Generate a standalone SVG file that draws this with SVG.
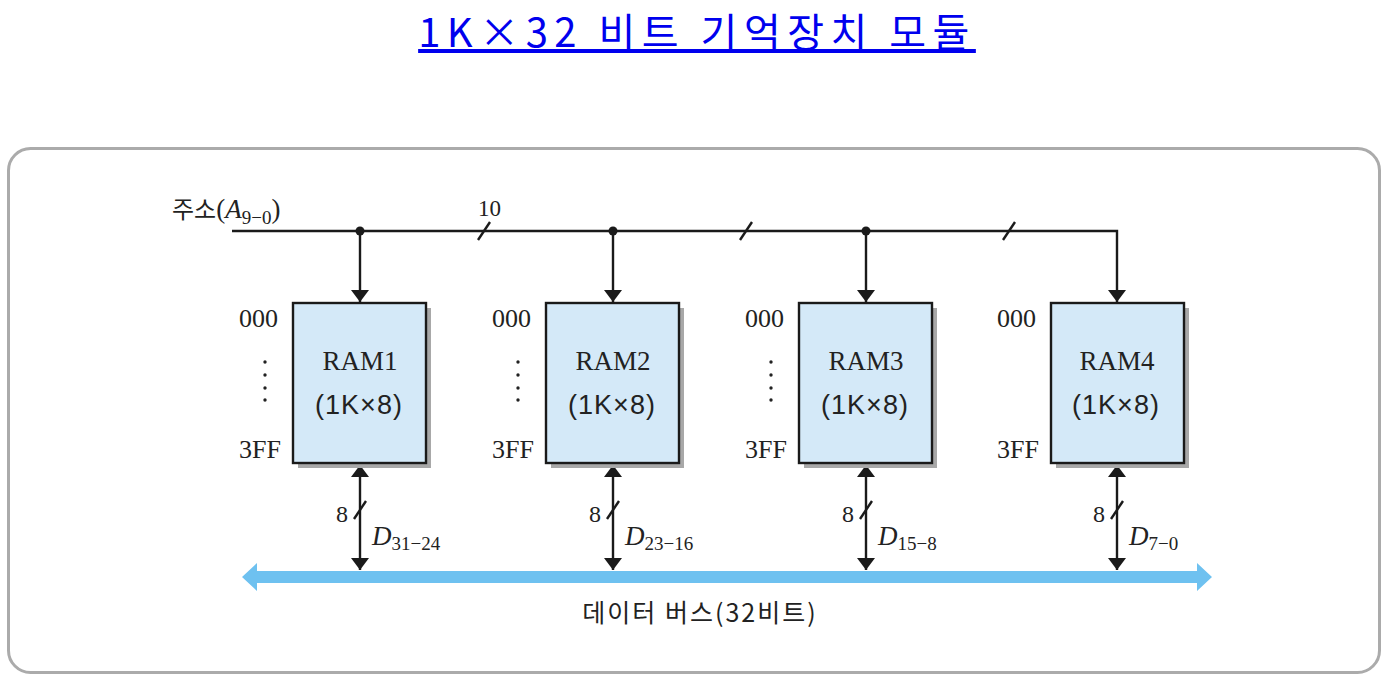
<svg xmlns="http://www.w3.org/2000/svg" width="1389" height="688" viewBox="0 0 1389 688">
<defs>
<marker id="ah" viewBox="0 0 12 18" refX="12" refY="9" markerWidth="12" markerHeight="18" markerUnits="userSpaceOnUse" orient="auto-start-reverse">
<path d="M0,0 L12,9 L0,18 Z" fill="#1a1a1a"/>
</marker>
</defs>
<style>
.ln{stroke:#1a1a1a;stroke-width:2.4;fill:none}
.ram{fill:#d4e9f8;stroke:#1a1a1a;stroke-width:2.4}
.sh{fill:#a8a8a8}
.cm{font-family:"Liberation Serif",serif;fill:#222}
.sans{font-family:"Liberation Sans","Noto Sans CJK KR",sans-serif;fill:#222}
.kr{font-family:"Noto Sans CJK KR","Liberation Sans",sans-serif;fill:#222}
</style>
<rect width="1389" height="688" fill="#fff"/>
<text x="697" y="47" text-anchor="middle" font-family="Noto Sans CJK KR, sans-serif" font-size="40" letter-spacing="6.5" fill="#0000ee" text-decoration="underline">1K×32 비트 기억장치 모듈</text>
<rect x="8.5" y="148.5" width="1371" height="524" rx="22" fill="none" stroke="#ababab" stroke-width="3"/>

<g id="connectors">
<polyline class="ln" points="232,231 1117,231 1117,302" marker-end="url(#ah)"/>
<line class="ln" x1="360" y1="231" x2="360" y2="302" marker-end="url(#ah)"/>
<line class="ln" x1="613" y1="231" x2="613" y2="302" marker-end="url(#ah)"/>
<line class="ln" x1="866" y1="231" x2="866" y2="302" marker-end="url(#ah)"/>
<circle cx="360" cy="231" r="4.5" fill="#1a1a1a"/>
<circle cx="613" cy="231" r="4.5" fill="#1a1a1a"/>
<circle cx="866" cy="231" r="4.5" fill="#1a1a1a"/>
<line class="ln" x1="478" y1="240" x2="490" y2="222"/>
<line class="ln" x1="740" y1="240" x2="752" y2="222"/>
<line class="ln" x1="1003" y1="240" x2="1015" y2="222"/>
<line class="ln" x1="360" y1="465" x2="360" y2="570" marker-start="url(#ah)" marker-end="url(#ah)"/>
<line class="ln" x1="613" y1="465" x2="613" y2="570" marker-start="url(#ah)" marker-end="url(#ah)"/>
<line class="ln" x1="866" y1="465" x2="866" y2="570" marker-start="url(#ah)" marker-end="url(#ah)"/>
<line class="ln" x1="1117" y1="465" x2="1117" y2="570" marker-start="url(#ah)" marker-end="url(#ah)"/>
<line class="ln" x1="354" y1="519" x2="366" y2="501"/>
<line class="ln" x1="607" y1="519" x2="619" y2="501"/>
<line class="ln" x1="860" y1="519" x2="872" y2="501"/>
<line class="ln" x1="1111" y1="519" x2="1123" y2="501"/>
</g>

<g id="bus">
<path d="M242,577 L257,563 L257,571 L1197,571 L1197,563 L1212,577 L1197,591 L1197,583 L257,583 L257,591 Z" fill="#6ec1f0"/>
<text x="700" y="622" text-anchor="middle" class="kr" font-size="25" letter-spacing="2" fill="#333">데이터 버스(32비트)</text>
</g>

<g id="address">
<text x="172" y="218" class="kr" font-size="24">주소<tspan class="cm" font-size="27">(</tspan><tspan class="cm" font-style="italic" font-size="27">A</tspan><tspan class="cm" font-size="19" dy="6">9−0</tspan><tspan class="cm" font-size="27" dy="-6">)</tspan></text>
<text x="478" y="216" class="cm" font-size="23">10</text>
</g>

<g id="ram1">
<rect class="sh" x="298" y="308" width="133" height="160"/>
<rect class="ram" x="293" y="303" width="133" height="160"/>
<text x="360" y="370" text-anchor="middle" class="cm" font-size="27">RAM1</text>
<text x="359" y="414" text-anchor="middle" class="sans" font-size="27" letter-spacing="1">(1K×8)</text>
<text x="239" y="327" class="cm" font-size="26">000</text>
<text x="239" y="458" class="cm" font-size="26">3FF</text>
<g fill="#222"><circle cx="265" cy="362" r="1.7"/><circle cx="265" cy="375" r="1.7"/><circle cx="265" cy="388" r="1.7"/><circle cx="265" cy="400" r="1.7"/></g>
<text x="336" y="522" class="cm" font-size="24">8</text>
<text x="372" y="545" class="cm" font-size="27"><tspan font-style="italic">D</tspan><tspan font-size="19" dy="5">31−24</tspan></text>
</g>

<g id="ram2">
<rect class="sh" x="551" y="308" width="133" height="160"/>
<rect class="ram" x="546" y="303" width="133" height="160"/>
<text x="613" y="370" text-anchor="middle" class="cm" font-size="27">RAM2</text>
<text x="612" y="414" text-anchor="middle" class="sans" font-size="27" letter-spacing="1">(1K×8)</text>
<text x="492" y="327" class="cm" font-size="26">000</text>
<text x="492" y="458" class="cm" font-size="26">3FF</text>
<g fill="#222"><circle cx="518" cy="362" r="1.7"/><circle cx="518" cy="375" r="1.7"/><circle cx="518" cy="388" r="1.7"/><circle cx="518" cy="400" r="1.7"/></g>
<text x="589" y="522" class="cm" font-size="24">8</text>
<text x="625" y="545" class="cm" font-size="27"><tspan font-style="italic">D</tspan><tspan font-size="19" dy="5">23−16</tspan></text>
</g>

<g id="ram3">
<rect class="sh" x="804" y="308" width="133" height="160"/>
<rect class="ram" x="799" y="303" width="133" height="160"/>
<text x="866" y="370" text-anchor="middle" class="cm" font-size="27">RAM3</text>
<text x="865" y="414" text-anchor="middle" class="sans" font-size="27" letter-spacing="1">(1K×8)</text>
<text x="745" y="327" class="cm" font-size="26">000</text>
<text x="745" y="458" class="cm" font-size="26">3FF</text>
<g fill="#222"><circle cx="771" cy="362" r="1.7"/><circle cx="771" cy="375" r="1.7"/><circle cx="771" cy="388" r="1.7"/><circle cx="771" cy="400" r="1.7"/></g>
<text x="842" y="522" class="cm" font-size="24">8</text>
<text x="878" y="545" class="cm" font-size="27"><tspan font-style="italic">D</tspan><tspan font-size="19" dy="5">15−8</tspan></text>
</g>

<g id="ram4">
<rect class="sh" x="1056" y="308" width="133" height="160"/>
<rect class="ram" x="1051" y="303" width="133" height="160"/>
<text x="1117" y="370" text-anchor="middle" class="cm" font-size="27">RAM4</text>
<text x="1116" y="414" text-anchor="middle" class="sans" font-size="27" letter-spacing="1">(1K×8)</text>
<text x="997" y="327" class="cm" font-size="26">000</text>
<text x="997" y="458" class="cm" font-size="26">3FF</text>
<text x="1093" y="522" class="cm" font-size="24">8</text>
<text x="1129" y="545" class="cm" font-size="27"><tspan font-style="italic">D</tspan><tspan font-size="19" dy="5">7−0</tspan></text>
</g>
</svg>
